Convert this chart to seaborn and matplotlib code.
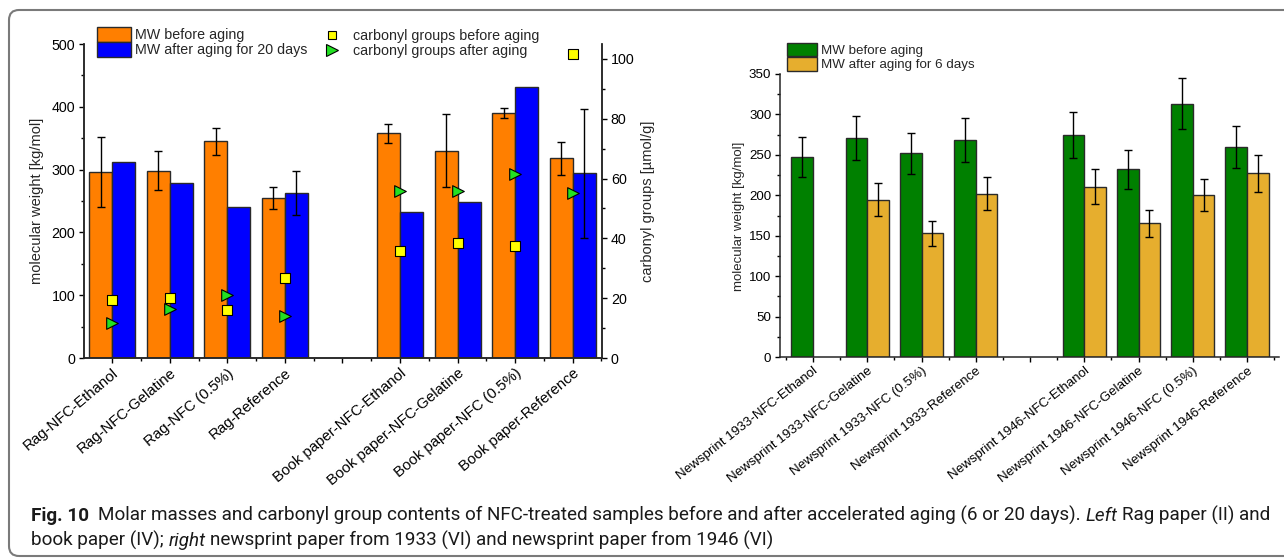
import numpy as np
import pandas as pd
import matplotlib
matplotlib.use("Agg")
import matplotlib.pyplot as plt
import matplotlib.transforms as mtransforms
from matplotlib.patches import Patch, FancyBboxPatch
from matplotlib.lines import Line2D
from matplotlib.ticker import MultipleLocator, FixedLocator
import seaborn as sns

nan = np.nan

# ---------------- rag paper (II) and book paper (IV) ----------------
left_samples = ["Rag-NFC-Ethanol", "Rag-NFC-Gelatine", "Rag-NFC (0.5%)", "Rag-Reference", "",
                "Book paper-NFC-Ethanol", "Book paper-NFC-Gelatine", "Book paper-NFC (0.5%)",
                "Book paper-Reference"]
mw_before_left = [296, 298, 345, 255, nan, 358, 330, 390, 318]
mw_before_left_err = [56, 31, 21, 17, nan, 15, 58, 8, 26]
mw_after_20d = [312, 279, 240, 262, nan, 233, 248, 431, 294]
mw_after_20d_err = [nan, nan, nan, 35, nan, nan, nan, nan, 103]
carbonyl_before = [19.5, 19.9, 16.1, 26.9, nan, 35.8, 38.3, 37.4, 101.5]
carbonyl_after = [11.6, 16.4, 20.9, 14.1, nan, 56.0, 55.8, 61.6, 55.3]

# ---------------- newsprint 1933 and 1946 (VI) ----------------
right_samples = ["Newsprint 1933-NFC-Ethanol", "Newsprint 1933-NFC-Gelatine",
                 "Newsprint 1933-NFC (0.5%)", "Newsprint 1933-Reference", "",
                 "Newsprint 1946-NFC-Ethanol", "Newsprint 1946-NFC-Gelatine",
                 "Newsprint 1946-NFC (0.5%)", "Newsprint 1946-Reference"]
mw_before_right = [247.5, 270.7, 251.7, 268.6, nan, 274.4, 232.0, 313.0, 259.5]
mw_before_right_err = [25, 27, 25.5, 27, nan, 28, 24, 31.6, 26]
mw_after_6d = [nan, 194.6, 152.9, 202.0, nan, 210.7, 165.3, 200.0, 227.3]
mw_after_6d_err = [nan, 20, 15.5, 20.5, nan, 21.5, 17, 20, 23]

left_stages = ["MW before aging", "MW after aging for 20 days"]
right_stages = ["MW before aging", "MW after aging for 6 days"]
carbonyl_labels = ["carbonyl groups before aging", "carbonyl groups after aging"]

ORANGE, BLUE = "#ff7f00", "#0000ff"
GREEN, GOLD = "#008000", "#e6ae2e"
YELLOW, LIME = "#ffff00", "#22e022"
EDGE = "#2a2a2a"

W, H, DPI = 1284, 559, 100

sns.set_theme(style="ticks")
plt.rcParams["font.family"] = ["Liberation Sans", "DejaVu Sans"]
plt.rcParams["axes.linewidth"] = 1.1
plt.rcParams["xtick.color"] = "black"
plt.rcParams["ytick.color"] = "black"

fig = plt.figure(figsize=(W / DPI, H / DPI), dpi=DPI)
fig.patch.set_facecolor("white")


def px_axes(x0, y0, x1, y1):
    """Axes from pixel box (left, top, right, bottom) measured from the top-left."""
    return fig.add_axes([x0 / W, 1 - y1 / H, (x1 - x0) / W, (y1 - y0) / H])


def long_frame(samples, stages, before, after):
    rows = []
    for s, b, a in zip(samples, before, after):
        if not np.isnan(b):
            rows.append((s, stages[0], b))
        if not np.isnan(a):
            rows.append((s, stages[1], a))
    return pd.DataFrame(rows, columns=["sample", "stage", "mw"])


def grouped_bars(ax, samples, stages, before, after, before_err, after_err, colors):
    df = long_frame(samples, stages, before, after)
    sns.barplot(data=df, x="sample", y="mw", hue="stage", order=samples,
                hue_order=stages, palette=colors, saturation=1, width=0.8,
                edgecolor=EDGE, linewidth=1.0, errorbar=None, legend=False, ax=ax)
    pos = np.arange(len(samples))
    for off, vals, errs in ((-0.2, before, before_err), (0.2, after, after_err)):
        vals = np.asarray(vals, float)
        errs = np.asarray(errs, float)
        m = ~np.isnan(vals) & ~np.isnan(errs)
        ax.errorbar(pos[m] + off, vals[m], yerr=errs[m], fmt="none", ecolor="black",
                    elinewidth=1.0, capsize=2.8, capthick=1.0, zorder=4)


def style_x(ax, samples, size, xlim, angle):
    n = len(samples)
    ax.set_xlim(*xlim)
    ax.xaxis.set_major_locator(FixedLocator(np.arange(n)))
    ax.xaxis.set_minor_locator(FixedLocator(np.arange(n + 1) - 0.5))
    ax.set_xticklabels(samples, rotation=angle, ha="right", va="top",
                       rotation_mode="anchor", fontsize=size)
    ax.set_xlabel("")
    ax.tick_params(axis="x", which="major", direction="out", length=3.8, width=1.0, pad=2)
    ax.tick_params(axis="x", which="minor", direction="out", length=2.4, width=1.0)


# ================= left panel =================
axL = px_axes(84, 44, 602, 358)
grouped_bars(axL, left_samples, left_stages, mw_before_left, mw_after_20d,
             mw_before_left_err, mw_after_20d_err, [ORANGE, BLUE])
style_x(axL, left_samples, 10.8, (-0.49, 8.51), 40)
axL.set_ylim(0, 500)
axL.yaxis.set_major_locator(MultipleLocator(100))
axL.yaxis.set_minor_locator(MultipleLocator(50))
axL.tick_params(axis="y", which="major", direction="out", length=3.8, width=1.0,
                labelsize=10.3, pad=2.5)
axL.tick_params(axis="y", which="minor", direction="out", length=2.4, width=1.0)
axL.set_ylabel("")
axL.spines["top"].set_visible(False)

axC = axL.twinx()
axC.set_ylim(0, 105)
axC.set_xlim(axL.get_xlim())
pos = np.arange(len(left_samples))
sns.scatterplot(x=pos, y=carbonyl_before, marker="s", s=42, color=YELLOW,
                edgecolor="black", linewidth=0.8, zorder=6, ax=axC, legend=False)
sns.scatterplot(x=pos, y=carbonyl_after, marker=">", s=70, color=LIME,
                edgecolor="black", linewidth=0.8, zorder=6, ax=axC, legend=False)
axC.yaxis.set_major_locator(MultipleLocator(20))
axC.yaxis.set_minor_locator(MultipleLocator(10))
axC.tick_params(axis="y", which="major", direction="out", length=3.8, width=1.0,
                labelsize=10.3, pad=2.5)
axC.tick_params(axis="y", which="minor", direction="out", length=2.4, width=1.0)
axC.set_ylabel("")
axC.spines["top"].set_visible(False)
axC.patch.set_visible(False)

fig.text(37 / W, 1 - 201 / H, "molecular weight [kg/mol]", rotation=90,
         ha="center", va="center", fontsize=10.5)
fig.text(648 / W, 1 - 201 / H, "carbonyl groups [\u00b5mol/g]", rotation=90,
         ha="center", va="center", fontsize=10.5)

fs_leg_left = 10.3
fs_px = fs_leg_left * DPI / 72
bar_handles = [Patch(facecolor=ORANGE, edgecolor=EDGE, linewidth=1.0),
               Patch(facecolor=BLUE, edgecolor=EDGE, linewidth=1.0)]
fig.legend(bar_handles, left_stages, loc="upper left",
           bbox_to_anchor=(97 / W, 1 - 27 / H), frameon=False, fontsize=fs_leg_left,
           handlelength=34 / fs_px, handleheight=17 / fs_px, handletextpad=4 / fs_px,
           labelspacing=0.0, borderpad=0.0, borderaxespad=0.0)
marker_handles = [Line2D([], [], linestyle="none", marker="s", markersize=6.2,
                         markerfacecolor=YELLOW, markeredgecolor="black", markeredgewidth=0.8),
                  Line2D([], [], linestyle="none", marker=">", markersize=8,
                         markerfacecolor=LIME, markeredgecolor="black", markeredgewidth=0.8)]
fig.legend(marker_handles, carbonyl_labels, loc="upper left",
           bbox_to_anchor=(325 / W, 1 - 29 / H), frameon=False, fontsize=fs_leg_left,
           handlelength=1.0, handletextpad=0.95, labelspacing=0.05,
           borderpad=0.0, borderaxespad=0.0)

# ================= right panel =================
axR = px_axes(780, 74, 1279, 357)
grouped_bars(axR, right_samples, right_stages, mw_before_right, mw_after_6d,
             mw_before_right_err, mw_after_6d_err, [GREEN, GOLD])
style_x(axR, right_samples, 9.6, (-0.61, 8.59), 38)
axR.set_ylim(0, 350)
axR.yaxis.set_major_locator(MultipleLocator(50))
axR.yaxis.set_minor_locator(MultipleLocator(25))
axR.tick_params(axis="y", which="major", direction="out", length=3.8, width=1.0,
                labelsize=9.6, pad=2.5)
axR.tick_params(axis="y", which="minor", direction="out", length=2.4, width=1.0)
axR.set_ylabel("")
axR.spines["top"].set_visible(False)
axR.spines["right"].set_visible(False)

fig.text(739 / W, 1 - 216 / H, "molecular weight [kg/mol]", rotation=90,
         ha="center", va="center", fontsize=9.5)

fs_leg_right = 9.6
fr_px = fs_leg_right * DPI / 72
fig.legend([Patch(facecolor=GREEN, edgecolor=EDGE, linewidth=1.0),
            Patch(facecolor=GOLD, edgecolor=EDGE, linewidth=1.0)], right_stages,
           loc="upper left", bbox_to_anchor=(787 / W, 1 - 43 / H), frameon=False,
           fontsize=fs_leg_right, handlelength=30 / fr_px, handleheight=15.5 / fr_px,
           handletextpad=4 / fr_px, labelspacing=0.0, borderpad=0.0, borderaxespad=0.0)

# ================= caption =================
cap_family = ["Roboto", "Open Sans", "DejaVu Sans"]
line1 = [("Fig. 10", "bold"), ("  ", None),
         ("Molar masses and carbonyl group contents of NFC-treated samples before and after "
          "accelerated aging (6 or 20 days).", "normal"), (" ", None),
         ("Left", "italic"), (" ", None), ("Rag paper (II) and", "normal")]
line2 = [("book paper (IV);", "normal"), (" ", None), ("right", "italic"), (" ", None),
         ("newsprint paper from 1933 (VI) and newsprint paper from 1946 (VI)", "normal")]

renderer = fig.canvas.get_renderer()


def text_width(s, size, style):
    kw = dict(fontsize=size, family=cap_family)
    if style == "bold":
        kw["fontweight"] = "bold"
    elif style == "italic":
        kw["fontstyle"] = "italic"
    t = fig.text(0, 0, s, **kw)
    w = t.get_window_extent(renderer).width
    t.remove()
    return w


def space_width(size):
    return text_width("a a", size, "normal") - text_width("aa", size, "normal")


def run_width(runs, size):
    total = 0.0
    for s, st in runs:
        total += space_width(size) * len(s) if st is None else text_width(s, size, st)
    return total


cap_size = 12.0
cap_size *= (1275 - 31) / run_width(line1, cap_size)


def draw_runs(runs, x_px, base_px, size):
    x = x_px
    for s, st in runs:
        if st is None:
            x += space_width(size) * len(s)
            continue
        kw = dict(fontsize=size, family=cap_family, color="#1a1a1a",
                  ha="left", va="baseline")
        if st == "bold":
            kw["fontweight"] = "bold"
        elif st == "italic":
            kw["fontstyle"] = "italic"
        t = fig.text(x / W, 1 - base_px / H, s, **kw)
        x += t.get_window_extent(renderer).width


draw_runs(line1, 31, 521, cap_size)
draw_runs(line2, 31, 546, cap_size)

# rounded frame around the figure
frame = FancyBboxPatch((9, 3), 1320, H - 13, boxstyle="round,pad=0,rounding_size=10",
                       transform=mtransforms.IdentityTransform(), facecolor="none",
                       edgecolor="#7a7a7a", linewidth=1.5, zorder=0)
fig.patches.append(frame)

fig.savefig("out.png", dpi=DPI)
